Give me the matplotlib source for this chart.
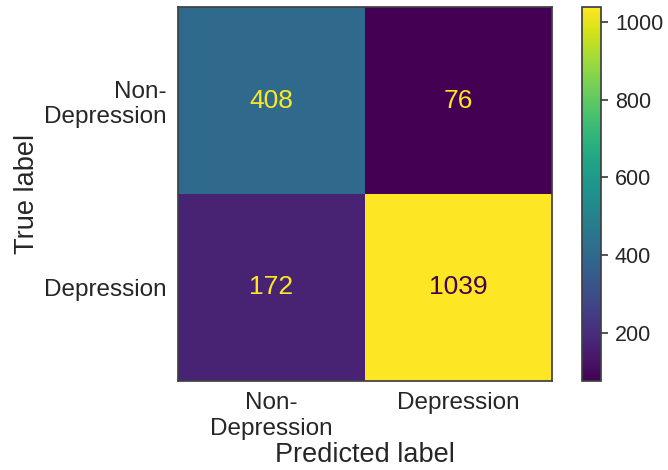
import matplotlib
matplotlib.use('Agg')
import matplotlib.pyplot as plt
import numpy as np

# confusion matrix values
labels = ['Non-\nDepression', 'Depression']
cm = np.array([[408, 76],
               [172, 1039]])
cbar_ticks = [200, 400, 600, 800, 1000]

plt.rcParams['font.family'] = ['Liberation Sans', 'DejaVu Sans']
plt.rcParams['text.color'] = '.15'
plt.rcParams['axes.labelcolor'] = '.15'
plt.rcParams['xtick.color'] = '.15'
plt.rcParams['ytick.color'] = '.15'
plt.rcParams['axes.edgecolor'] = '.25'

fig = plt.figure(figsize=(6.68, 4.70), dpi=100)
ax = fig.add_axes([178/668, 89/470, 374/668, 374/470])
cax = fig.add_axes([582/668, 89/470, 19/668, 374/470])

cmap = plt.get_cmap('viridis')
im = ax.imshow(cm, cmap=cmap, interpolation='nearest', aspect='auto')

# text colour like sklearn ConfusionMatrixDisplay
thresh = (cm.max() + cm.min()) / 2.0
for i in range(cm.shape[0]):
    for j in range(cm.shape[1]):
        color = cmap(0) if cm[i, j] >= thresh else cmap(1.0)
        ax.text(j, i, str(cm[i, j]), ha='center', va='center', color=color, fontsize=19)

ax.set_xticks(range(len(labels)))
ax.set_yticks(range(len(labels)))
ax.set_xticklabels(labels)
ax.set_yticklabels(labels, ha='right', multialignment='right')
ax.tick_params(length=0, labelsize=17.5, pad=8)
ax.set_xlabel('Predicted label', fontsize=19.5, labelpad=2)
ax.set_ylabel('True label', fontsize=19.5, labelpad=3)
for s in ax.spines.values():
    s.set_linewidth(1.25)

cb = fig.colorbar(im, cax=cax)
cb.set_ticks(cbar_ticks)
cb.ax.tick_params(labelsize=15.5, length=5, width=1.1, pad=5)
cb.outline.set_linewidth(1.25)

fig.savefig('out.png', dpi=100)
